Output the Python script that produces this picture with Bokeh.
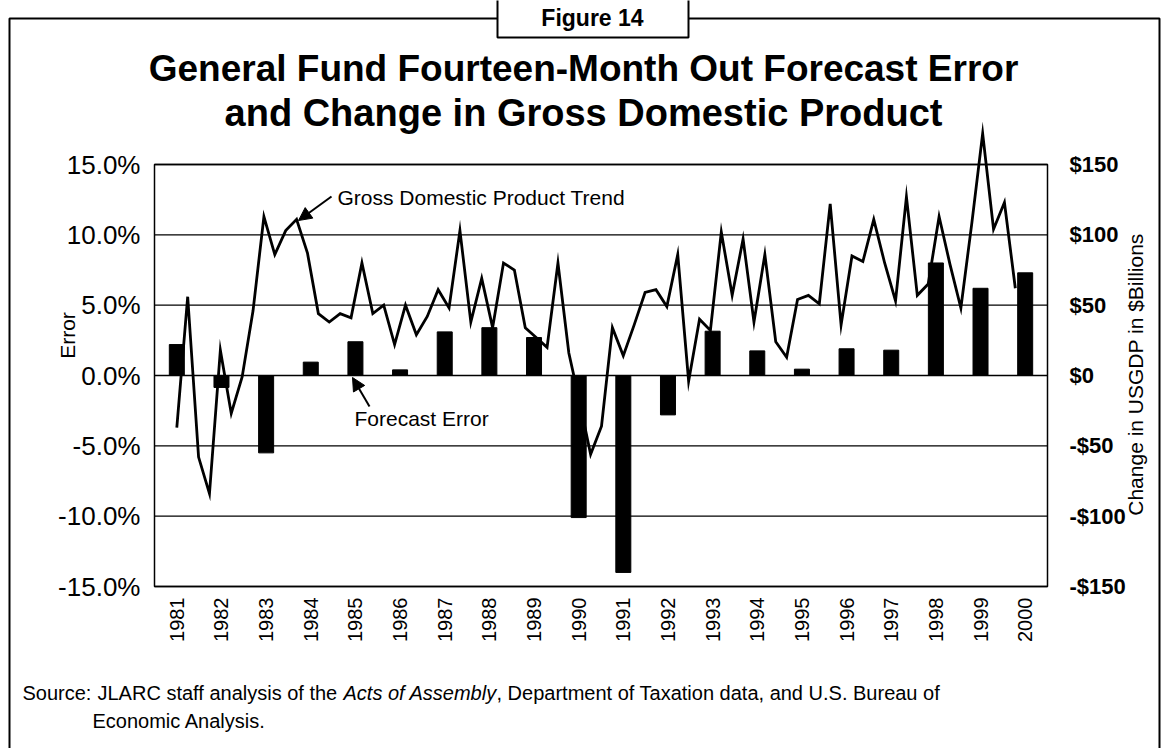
import math
from bokeh.plotting import figure
from bokeh.models import (Range1d, LinearAxis, FixedTicker, PrintfTickFormatter,
                          Label, Arrow, NormalHead, BoxAnnotation)
from bokeh.embed import file_html
from bokeh.resources import INLINE

# ---------------- data ----------------
YEARS = [1981, 1982, 1983, 1984, 1985, 1986, 1987, 1988, 1989, 1990,
         1991, 1992, 1993, 1994, 1995, 1996, 1997, 1998, 1999, 2000]
YEAR_LABELS = [str(y) for y in YEARS]

# General Fund forecast error (%)
FORECAST_ERROR = [2.2, -0.85, -5.5, 0.95, 2.4, 0.4, 3.1, 3.4, 2.7, -10.1,
                  -14.0, -2.8, 3.15, 1.75, 0.45, 1.9, 1.8, 8.0, 6.2, 7.3]

# Change in US GDP, quarterly ($ billions)
GDP_CHANGE = [-37, 56, -58, -84, 18, -27, -1, 46, 113, 86, 103, 111,
              87, 44, 38, 44, 41, 80, 44, 50, 22, 50, 29, 42,
              61, 48, 103, 38, 69, 34, 80, 75, 34, 27, 20, 80,
              16, -19, -56, -36, 34, 14, 36, 59, 61, 49, 86, -4,
              40, 32, 102, 57, 97, 38, 86, 24, 13, 54, 57, 51,
              122, 36, 85, 81, 111, 80, 53, 127, 57, 65, 113, 79,
              48, 108, 172, 104, 123, 62]
QUARTER_INDEX = list(range(len(GDP_CHANGE)))

ERR_TICKS = [-15, -10, -5, 0, 5, 10, 15]
GDP_TICKS = [-150, -100, -50, 0, 50, 100, 150]
GDP_TICK_LABELS = ["-$150", "-$100", "-$50", "$0", "$50", "$100", "$150"]

FONT = "Liberation Sans"

# ---------------- layout (page pixels) ----------------
W, H = 1167, 748
BOX_L, BOX_R, BOX_T, BOX_B = 154, 1047, 164, 586     # chart box on the page
PX_YEAR = (BOX_R - BOX_L) / 20.0                      # px per year slot
PX_PCT = (BOX_B - BOX_T) / 30.0                       # px per 1 %
Q0_PX, Q_STEP_PX = 176.3, 10.89                       # first quarter / spacing
X_START = 1980.5 - BOX_L / PX_YEAR
Y_TOP = 15 + BOX_T / PX_PCT


def X(px):
    return X_START + px / PX_YEAR


def Y(py):
    return Y_TOP - py / PX_PCT


p = figure(width=W, height=H,
           x_range=Range1d(X(0), X(W)), y_range=Range1d(Y(H), Y(0)),
           x_axis_location=None, y_axis_location=None,
           output_backend="svg", toolbar_location=None,
           min_border=0, min_border_left=0, min_border_right=0,
           min_border_top=0, min_border_bottom=0)
p.extra_y_ranges = {"gdp": Range1d(10 * Y(H), 10 * Y(0))}
p.extra_x_ranges = {"q": Range1d(-Q0_PX / Q_STEP_PX, (W - Q0_PX) / Q_STEP_PX)}
p.outline_line_color = None
p.background_fill_color = "white"
p.border_fill_color = "white"
p.grid.visible = False

# horizontal grid lines inside the chart box
p.segment(x0=[1980.5] * len(ERR_TICKS), x1=[2000.5] * len(ERR_TICKS),
          y0=ERR_TICKS, y1=ERR_TICKS, line_color="black", line_width=1.4)

# left axis
ya = LinearAxis(fixed_location=1980.5, ticker=FixedTicker(ticks=ERR_TICKS),
                formatter=PrintfTickFormatter(format="%.1f%%"))
ya.axis_line_color = None
ya.major_tick_line_color = None
ya.minor_tick_line_color = None
ya.major_tick_out = 0
ya.major_tick_in = 0
ya.major_label_standoff = 14
ya.major_label_text_font = FONT
ya.major_label_text_font_size = "26px"
ya.major_label_text_color = "black"
p.add_layout(ya, "left")

# bottom axis
xa = LinearAxis(fixed_location=-15, ticker=FixedTicker(ticks=YEARS),
                major_label_overrides=dict(zip(YEARS, YEAR_LABELS)))
xa.major_label_orientation = math.pi / 2
xa.axis_line_color = None
xa.major_tick_line_color = None
xa.minor_tick_line_color = None
xa.major_tick_out = 0
xa.major_tick_in = 0
xa.major_label_standoff = 11
xa.major_label_text_font = FONT
xa.major_label_text_font_size = "20px"
xa.major_label_text_color = "black"
p.add_layout(xa, "below")

# right axis
ra = LinearAxis(fixed_location=2000.5, y_range_name="gdp",
                ticker=FixedTicker(ticks=GDP_TICKS),
                major_label_overrides=dict(zip(GDP_TICKS, GDP_TICK_LABELS)))
ra.axis_line_color = None
ra.major_tick_line_color = None
ra.minor_tick_line_color = None
ra.major_tick_out = 0
ra.major_tick_in = 0
ra.major_label_standoff = 22
ra.major_label_text_font = FONT
ra.major_label_text_font_size = "22px"
ra.major_label_text_font_style = "bold"
ra.major_label_text_color = "black"
p.add_layout(ra, "right")

# bars and line
p.vbar(x=YEARS, top=FORECAST_ERROR, bottom=0, width=0.336,
       fill_color="black", line_color="black")
p.line(x=QUARTER_INDEX, y=GDP_CHANGE, x_range_name="q", y_range_name="gdp",
       line_color="black", line_width=2.8, line_join="miter")

# chart box (-15% .. 15%)
p.add_layout(BoxAnnotation(left=1980.5, right=2000.5, bottom=-15, top=15,
                           fill_color=None, line_color="black", line_width=1.5,
                           line_alpha=1))

# outer page border and "Figure 14" tab
p.add_layout(BoxAnnotation(left=X(9), right=X(1159), top=Y(18), bottom=Y(800),
                           fill_color=None, line_color="black", line_width=2,
                           line_alpha=1))
p.add_layout(BoxAnnotation(left=X(497), right=X(688), top=Y(-20), bottom=Y(37),
                           fill_color="white", fill_alpha=1, line_color="black",
                           line_width=2, line_alpha=1))


def lab(text, px, py, size, style="normal", align="center", angle=0):
    p.add_layout(Label(x=X(px), y=Y(py), text=text, text_font=FONT,
                       text_font_size=size, text_font_style=style,
                       text_align=align, text_baseline="middle",
                       text_color="black", angle=angle))


lab("Figure 14", 592, 17, "23px", "bold")
lab("General Fund Fourteen-Month Out Forecast Error", 583, 68, "37px", "bold")
lab("and Change in Gross Domestic Product", 583, 112, "38px", "bold")
lab("Error", 67, 335, "21px", angle=math.pi / 2)
lab("Change in USGDP in $Billions", 1135, 374, "21px", angle=math.pi / 2)
lab("Gross Domestic Product Trend", 337, 197, "21px", align="left")
lab("Forecast Error", 354, 418, "21px", align="left")

lab("Source:", 22, 692, "20px", align="left")
lab("JLARC staff analysis of the", 97, 692, "20px", align="left")
lab("Acts of Assembly", 343, 692, "20px", "italic", align="left")
lab(", Department of Taxation data, and U.S. Bureau of", 496, 692, "20px", align="left")
lab("Economic Analysis.", 92, 720, "20px", align="left")

# arrows
p.add_layout(Arrow(end=NormalHead(size=13, fill_color="black", line_color="black"),
                   x_start=X(331), y_start=Y(196), x_end=X(298), y_end=Y(220),
                   line_width=2, line_color="black"))
p.add_layout(Arrow(end=NormalHead(size=13, fill_color="black", line_color="black"),
                   x_start=X(369), y_start=Y(406), x_end=X(352), y_end=Y(377),
                   line_width=2, line_color="black"))

open("out.html", "w").write(file_html(p, INLINE))
